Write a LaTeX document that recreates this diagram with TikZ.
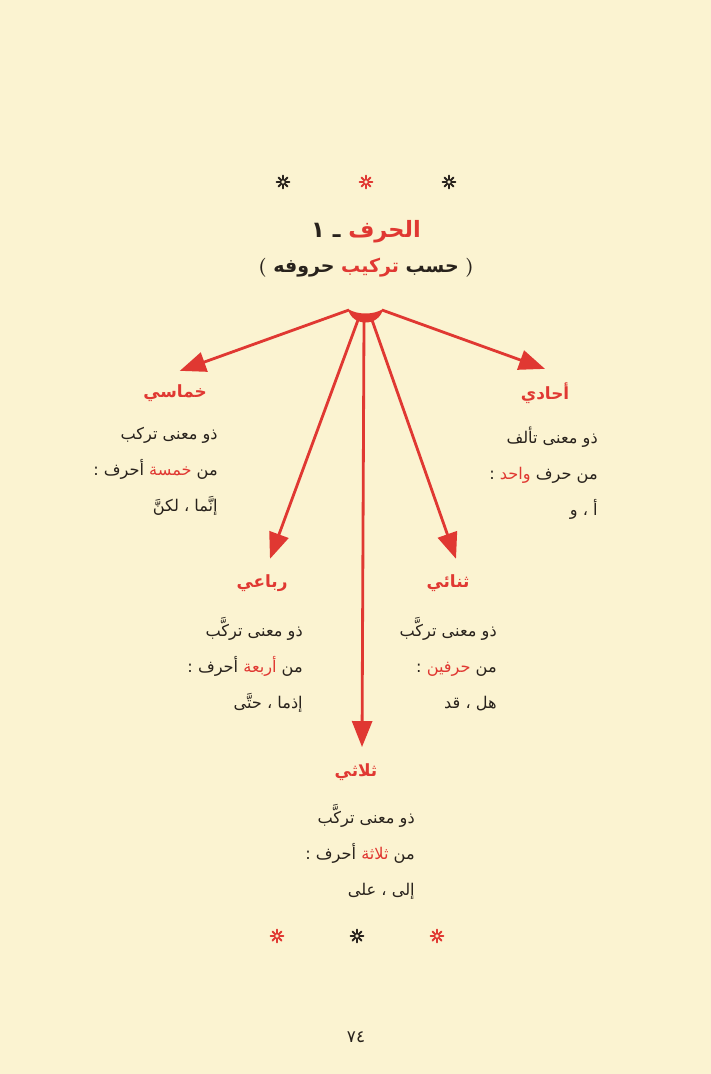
\documentclass[tikz,border=0pt]{standalone}
\usepackage{fontspec}
\usepackage{xcolor}
\usetikzlibrary{arrows.meta}
\newfontfamily\arabicfont[Script=Arabic]{DejaVu Sans}
\TeXXeTstate=1
\definecolor{paper}{RGB}{251,243,209}
\definecolor{accent}{RGB}{224,56,50}
\definecolor{ink}{RGB}{40,34,28}
\newcommand\ar[1]{\beginR#1\endR}
\newcommand\rd[1]{\textcolor{accent}{\beginR#1\endR}}
\newcommand\lt[1]{{\normalfont\bfseries#1}}

\begin{document}
\begin{tikzpicture}[x=0.025cm, y=-0.025cm,
    arr/.style={draw=accent, line width=2pt, -{Triangle[length=6.5mm, width=5mm]}},
    cat/.style={text=accent, font=\arabicfont\bfseries\fontsize{12}{14}\selectfont, inner sep=1pt},
    body/.style={text=ink, align=right, font=\arabicfont\fontsize{11.5}{25.6}\selectfont, inner sep=0pt}]
    \fill[paper] (0,0) rectangle (711,1074);

    % ornaments
    \foreach \px/\py/\c in {283/182/ink, 366/182/accent, 449/182/ink, 277/936/accent, 357/936/ink, 437/936/accent}
        \foreach \a in {0,45,...,315}
            \draw[\c, line width=1.3pt, line cap=round] (\px,\py) ++(\a:2) -- ++(\a:4.5);

    % heading
    \node[text=ink, font=\arabicfont\bfseries\fontsize{16}{20}\selectfont] (title) at (366,232) {\ar{ـ ١}~\rd{الحرف}};
    \node[text=ink, font=\arabicfont\bfseries\fontsize{13.5}{18}\selectfont] (subtitle) at (366,268) {\lt{(}~\ar{حروفه}~\rd{تركيب}~\ar{حسب}~\lt{)}};

    % hub
    \fill[accent] (348,309) .. controls (352,327) and (379,327) .. (383,309) .. controls (374,315) and (357,315) .. cycle;
    \coordinate (hubL) at (349,310);
    \coordinate (hubR) at (382,310);
    \coordinate (hubA) at (358,320);
    \coordinate (hubB) at (364,322);
    \coordinate (hubC) at (372,320);

    % categories
    \node[cat] (ahadi) at (545,393) {أحادي};
    \node[cat] (khumasi) at (175,393) {خماسي};
    \node[cat] (rubai) at (262,583) {رباعي};
    \node[cat] (thunai) at (448,583) {ثنائي};
    \node[cat] (thulathi) at (356,772) {ثلاثي};

    \draw[arr] (hubL) -- ([xshift=0.12cm, yshift=0.3cm]khumasi.north);
    \draw[arr] (hubR) -- ([yshift=0.3cm]ahadi.north);
    \draw[arr] (hubA) -- ([xshift=0.2cm, yshift=0.35cm]rubai.north);
    \draw[arr] (hubB) -- ([xshift=0.15cm, yshift=0.37cm]thulathi.north);
    \draw[arr] (hubC) -- ([xshift=0.2cm, yshift=0.35cm]thunai.north);

    \node[body, anchor=north east] (ahadiTxt) at (598,427) {\ar{ذو معنى تألف}\\ :~\rd{واحد}~\ar{من حرف}\\ \ar{أ ، و}};
    \node[body, anchor=north east] (khumasiTxt) at (218,427) {\ar{ذو معنى تركب}\\ :~\ar{أحرف}~\rd{خمسة}~\ar{من}\\ \ar{إنَّما ، لكنَّ}};
    \node[body, anchor=north east] (rubaiTxt) at (303,617) {\ar{ذو معنى تركَّب}\\ :~\ar{أحرف}~\rd{أربعة}~\ar{من}\\ \ar{إذما ، حتَّى}};
    \node[body, anchor=north east] (thunaiTxt) at (497,617) {\ar{ذو معنى تركَّب}\\ :~\rd{حرفين}~\ar{من}\\ \ar{هل ، قد}};
    \node[body, anchor=north east] (thulathiTxt) at (415,804) {\ar{ذو معنى تركَّب}\\ :~\ar{أحرف}~\rd{ثلاثة}~\ar{من}\\ \ar{إلى ، على}};

    % page number
    \node[text=ink, font=\arabicfont\fontsize{12}{14}\selectfont] (pagenum) at (356,1037) {٧٤};
\end{tikzpicture}
\end{document}
